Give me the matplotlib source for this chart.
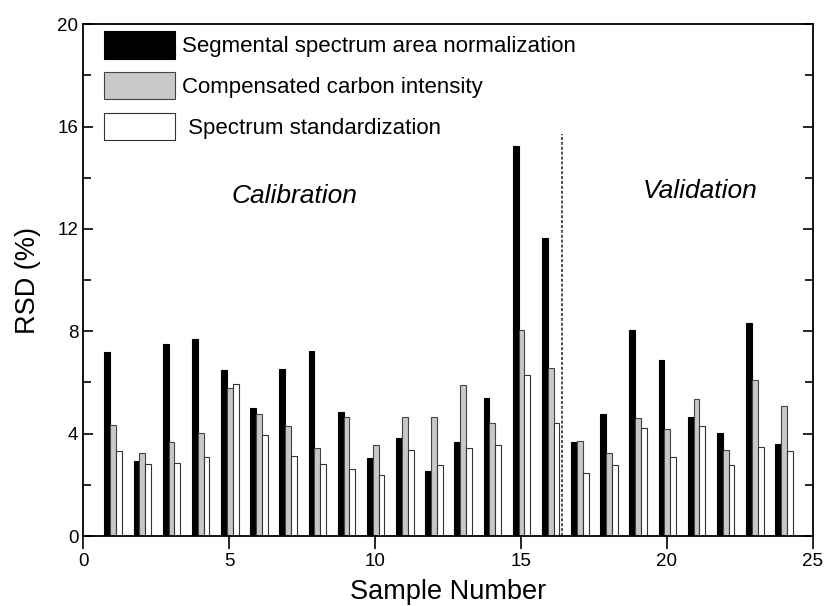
import numpy as np
import matplotlib
matplotlib.use('Agg')
import matplotlib.pyplot as plt
from matplotlib.ticker import MultipleLocator

plt.rcParams['font.family'] = ['Liberation Sans', 'DejaVu Sans']

# данные
samples = np.arange(1, 25)
segmental = [7.2, 2.94, 7.49, 7.71, 6.48, 5.0, 6.52, 7.24, 4.86, 3.03, 3.84, 2.54,
             3.66, 5.40, 15.23, 11.65, 3.67, 4.78, 8.05, 6.88, 4.65, 4.04, 8.33, 3.61]
compensated = [4.35, 3.23, 3.67, 4.04, 5.77, 4.75, 4.28, 3.45, 4.66, 3.57, 4.66, 4.67,
               5.91, 4.43, 8.07, 6.58, 3.71, 3.26, 4.61, 4.17, 5.35, 3.37, 6.08, 5.07]
standardized = [3.33, 2.83, 2.86, 3.07, 5.95, 3.96, 3.12, 2.81, 2.63, 2.40, 3.36, 2.77,
                3.45, 3.55, 6.30, 4.43, 2.45, 2.77, 4.21, 3.09, 4.30, 2.79, 3.46, 3.33]
labels = ['Segmental spectrum area normalization',
          'Compensated carbon intensity',
          ' Spectrum standardization']
split_x = 16.4

fig = plt.figure(figsize=(8.25, 6.06), dpi=100)
ax = fig.add_axes([0.101, 0.1155, 0.884, 0.8445])

w = 0.2
ax.bar(samples - 0.2 + 0.02, segmental, w, color='black', edgecolor='black',
       linewidth=0.8, label=labels[0])
ax.bar(samples + 0.02, compensated, w, color='#c8c8c8', edgecolor='#444444',
       linewidth=0.8, label=labels[1])
ax.bar(samples + 0.2 + 0.02, standardized, w, color='white', edgecolor='#333333',
       linewidth=0.8, label=labels[2])

# разделительная линия
ax.plot([split_x, split_x], [0, 15.7], color='#222222', linestyle=(0, (2, 1.2)),
        linewidth=1.1)

ax.text(7.25, 13.3, 'Calibration', style='italic', fontsize=19,
        ha='center', va='center')
ax.text(21.15, 13.5, 'Validation', style='italic', fontsize=19,
        ha='center', va='center')

ax.set_xlim(0, 25)
ax.set_ylim(0, 20)
ax.xaxis.set_major_locator(MultipleLocator(5))
ax.yaxis.set_major_locator(MultipleLocator(4))
ax.yaxis.set_minor_locator(MultipleLocator(2))
ax.tick_params(axis='y', which='both', direction='in', left=True, right=True,
               labelsize=13.5, width=1.2)
ax.tick_params(axis='y', which='major', length=7)
ax.tick_params(axis='y', which='minor', length=6)
ax.tick_params(axis='x', which='major', direction='out', length=9, width=1.2,
               labelsize=13.5, top=False)
for s in ax.spines.values():
    s.set_linewidth(1.3)

ax.set_xlabel('Sample Number', fontsize=19.5, labelpad=6)
ax.set_ylabel('RSD (%)', fontsize=19.5, labelpad=12)

leg = ax.legend(loc='upper left', bbox_to_anchor=(0.028, 0.986), frameon=False,
                fontsize=16, handlelength=3.2, handleheight=1.5, handletextpad=0.32,
                labelspacing=0.62, borderaxespad=0, borderpad=0)

fig.savefig('out.png', dpi=100)
